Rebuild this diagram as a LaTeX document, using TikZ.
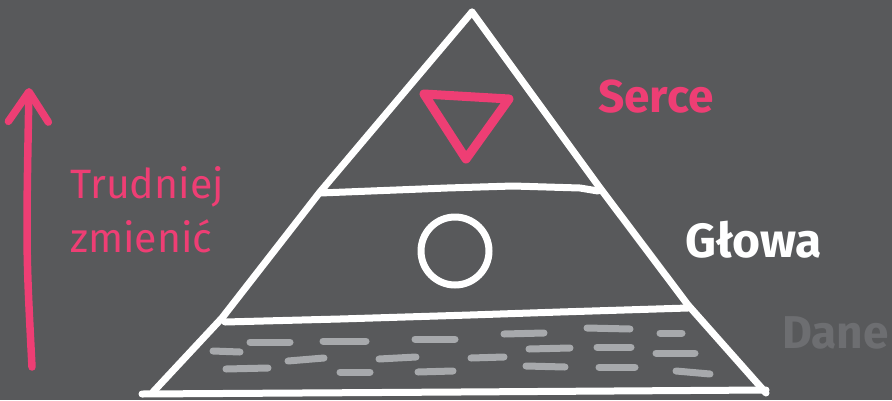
\documentclass[tikz,border=0pt]{standalone}
\usepackage{fontspec}
\setmainfont{Fira Sans}
\usepackage{tikz}
\usetikzlibrary{positioning, arrows.meta}
\usepackage{xcolor}
\definecolor{board}{HTML}{58595B}
\definecolor{chalkpink}{HTML}{EE3E74}
\definecolor{chalkgray}{HTML}{A7A9AC}
\definecolor{darkgray}{HTML}{6D6E71}

\begin{document}
\begin{tikzpicture}[
    x=1pt, y=-1pt,
    chalk/.style={draw=white, line width=7pt, line cap=round, line join=round},
    heart/.style={draw=chalkpink, line width=9pt, line cap=round, line join=round},
    daneline/.style={draw=chalkgray, line width=7pt, line cap=round},
    uparrow/.style={draw=chalkpink, line width=7.5pt, line cap=round,
        -{Straight Barb[length=30pt, width=40pt, round]}},
    label/.style={inner sep=0pt, anchor=base west}
]

% Board
\fill[board] (0,0) rectangle (892,400);
\useasboundingbox (0,0) rectangle (892,400);

% Pyramid
\draw[chalk] (472,12) -- (320,192) -- (222,318) -- (153,392);
\draw[chalk] (472,12) -- (600,188) -- (688,305) -- (766,393);
\draw[chalk] (142,394) -- (460,392) -- (766,390);
\draw[chalk] (320,193) -- (447,188) -- (513,186) -- (580,188) -- (598,191);
\draw[chalk] (225,322) -- (340,319) -- (470,315) -- (560,312) -- (688,308);

% Serce
\draw[heart] (424,94) -- (509,99) -- (466,159) -- cycle;

% Glowa
\draw[chalk] (455,251) circle[radius=34];

% Dane
\foreach \xa/\ya/\xb/\yb in {250/342/290/342, 323/341/366/341, 415/339/455/339,
    213/351/240/352, 288/361/324/358, 379/359/416/357, 226/369/268/368,
    340/372/370/372, 418/372/453/371, 504/334/544/333, 587/328/630/329,
    660/333/682/333, 529/349/570/348, 597/347/631/347, 656/353/695/353,
    471/358/504/357, 526/366/565/367, 599/367/635/367, 676/371/710/374}
    \draw[daneline] (\xa,\ya) -- (\xb,\yb);

% Arrow
\draw[uparrow] (32,367) .. controls (26,250) .. (29,88);

% Labels
\node[label, text=chalkpink, font=\fontsize{41}{50}\selectfont] (trud) at (70,198) {Trudniej};
\node[label, text=chalkpink, font=\fontsize{41}{50}\selectfont] (zmien) at (70,252) {zmienić};
\node[label, text=chalkpink, font=\bfseries\fontsize{46}{50}\selectfont] (serce) at (598,112) {Serce};
\node[label, text=white, font=\bfseries\fontsize{48}{50}\selectfont] (glowa) at (685,257) {Głowa};
\node[label, text=darkgray, font=\bfseries\fontsize{46}{50}\selectfont] (dane) at (782,348) {Dane};

\end{tikzpicture}
\end{document}
